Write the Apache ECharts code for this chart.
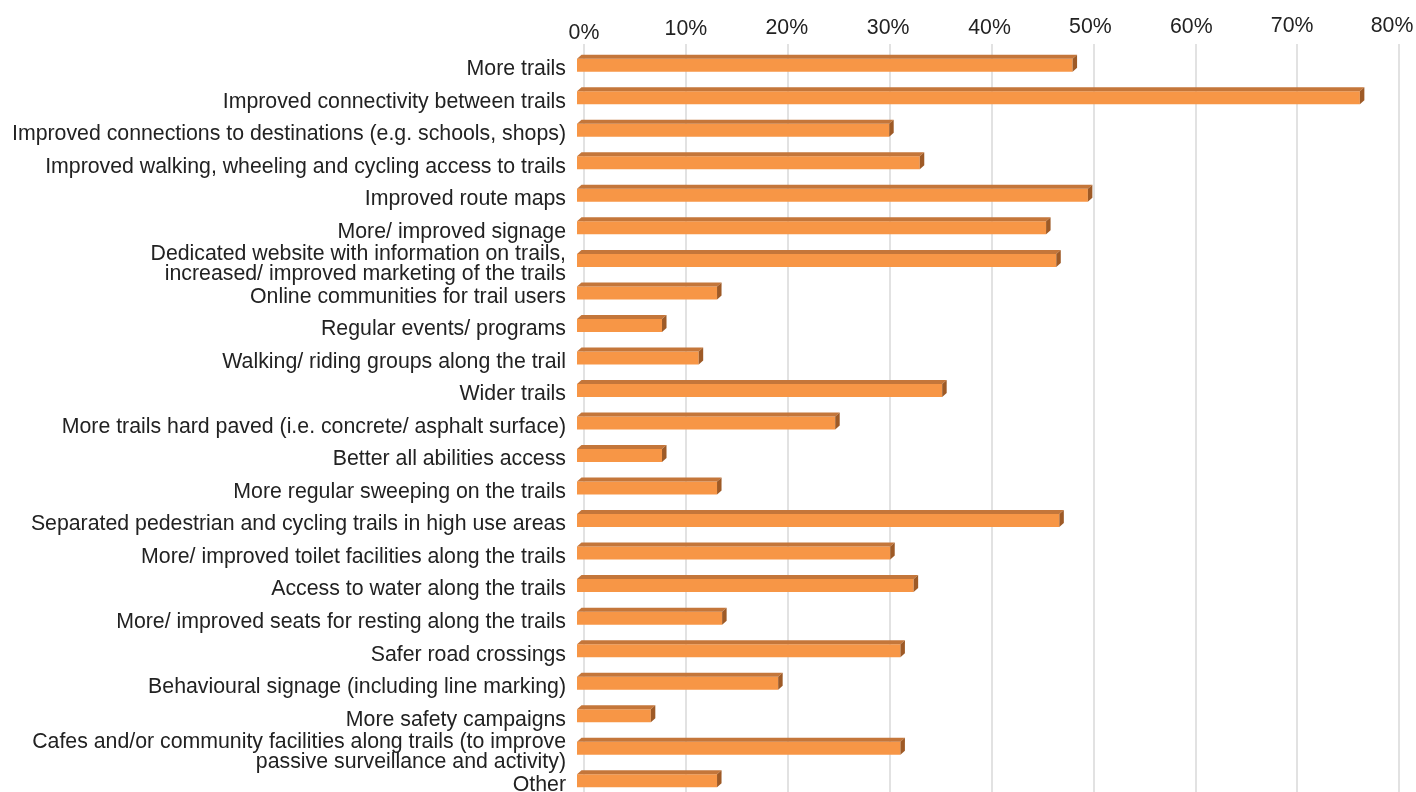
<!DOCTYPE html>
<html>
<head>
<meta charset="utf-8">
<script src="https://cdn.jsdelivr.net/npm/echarts@6/dist/echarts.min.js"></script>
<style>
html,body{margin:0;padding:0;background:#fff;}
#chart{width:1416px;height:792px;}
</style>
</head>
<body>
<div id="chart"></div>
<script>
const categories = [
  "More trails",
  "Improved connectivity between trails",
  "Improved connections to destinations (e.g. schools, shops)",
  "Improved walking, wheeling and cycling access to trails",
  "Improved route maps",
  "More/ improved signage",
  "Dedicated website with information on trails,\nincreased/ improved marketing of the trails",
  "Online communities for trail users",
  "Regular events/ programs",
  "Walking/ riding groups along the trail",
  "Wider trails",
  "More trails hard paved (i.e. concrete/ asphalt surface)",
  "Better all abilities access",
  "More regular sweeping on the trails",
  "Separated pedestrian and cycling trails in high use areas",
  "More/ improved toilet facilities along the trails",
  "Access to water along the trails",
  "More/ improved seats for resting along the trails",
  "Safer road crossings",
  "Behavioural signage (including line marking)",
  "More safety campaigns",
  "Cafes and/or community facilities along trails (to improve\npassive surveillance and activity)",
  "Other"
];
const values = [48.4, 76.6, 30.4, 33.4, 49.9, 45.8, 46.8, 13.5, 8.1, 11.7, 35.6, 25.1, 8.1, 13.5, 47.1, 30.5, 32.8, 14.0, 31.5, 19.5, 7.0, 31.5, 13.5];
const tickValues = [0, 10, 20, 30, 40, 50, 60, 70, 80];

const chart = echarts.init(document.getElementById('chart'), null, {renderer: 'canvas'});
const FONT = '"Liberation Sans", Arial, sans-serif';
const FS = 21.3;

function renderBar(params, api) {
  const v = api.value(0);
  const ci = api.value(1);
  const p0 = api.coord([0, ci]);
  const p1 = api.coord([v, ci]);
  const dx = 4.5, dy = 4, h = 13;
  const fl = p0[0] - 7;
  const fr = p1[0] - dx;
  const ft = p0[1] - 1.5;
  const fb = ft + h;
  return {
    type: 'group',
    children: [
      {type: 'rect', shape: {x: fl, y: ft, width: fr - fl, height: h}, style: {fill: '#F79646'}},
      {type: 'polygon', shape: {points: [[fl, ft], [fl + dx, ft - dy], [fr + dx, ft - dy], [fr, ft]]}, style: {fill: '#C4763A'}},
      {type: 'polygon', shape: {points: [[fr, ft], [fr + dx, ft - dy], [fr + dx, fb - dy], [fr, fb]]}, style: {fill: '#9E5A26'}}
    ]
  };
}

// slight perspective offsets of the top tick labels (bottom lift, left shift)
const liftPad = [0, 4, 5, 5, 5, 6, 6, 7, 7];
const leftPad = [0, 0, 2, 3, 4, 6, 8, 10, 14];
const tickRich = {};
tickValues.forEach(function (t, i) {
  tickRich['t' + t] = {fontSize: FS, fontFamily: FONT, color: '#222', padding: [0, leftPad[i], liftPad[i], 0]};
});

const option = {
  animation: false,
  grid: {left: 584, right: 17, top: 44, bottom: 0, containLabel: false, outerBoundsMode: 'none'},
  xAxis: {
    type: 'value',
    position: 'top',
    min: 0, max: 80, interval: 10,
    axisLine: {show: false},
    axisTick: {show: false},
    splitLine: {show: true, lineStyle: {color: '#D9D9D9', width: 1.5}},
    axisLabel: {
      margin: 0,
      formatter: function (v) {
        return '{t' + v + '|' + v + '%}';
      },
      rich: tickRich
    }
  },
  yAxis: {
    type: 'category',
    inverse: true,
    data: categories,
    axisLine: {show: false},
    axisTick: {show: false},
    splitLine: {show: false},
    axisLabel: {
      margin: 18,
      interval: 0,
      align: 'right',
      formatter: function (v) {
        return '{s| }\n' + v.split('\n').map(function (l) { return '{t|' + l + '}'; }).join('\n');
      },
      rich: {
        s: {fontSize: 4, lineHeight: 18, fontFamily: FONT},
        t: {fontSize: FS, lineHeight: 20, fontFamily: FONT, color: '#222', align: 'right'}
      }
    }
  },
  series: [{
    type: 'custom',
    renderItem: renderBar,
    encode: {x: 0, y: 1},
    data: values.map(function (v, i) { return [v, i]; }),
    clip: false
  }]
};
chart.setOption(option);
</script>
</body>
</html>
